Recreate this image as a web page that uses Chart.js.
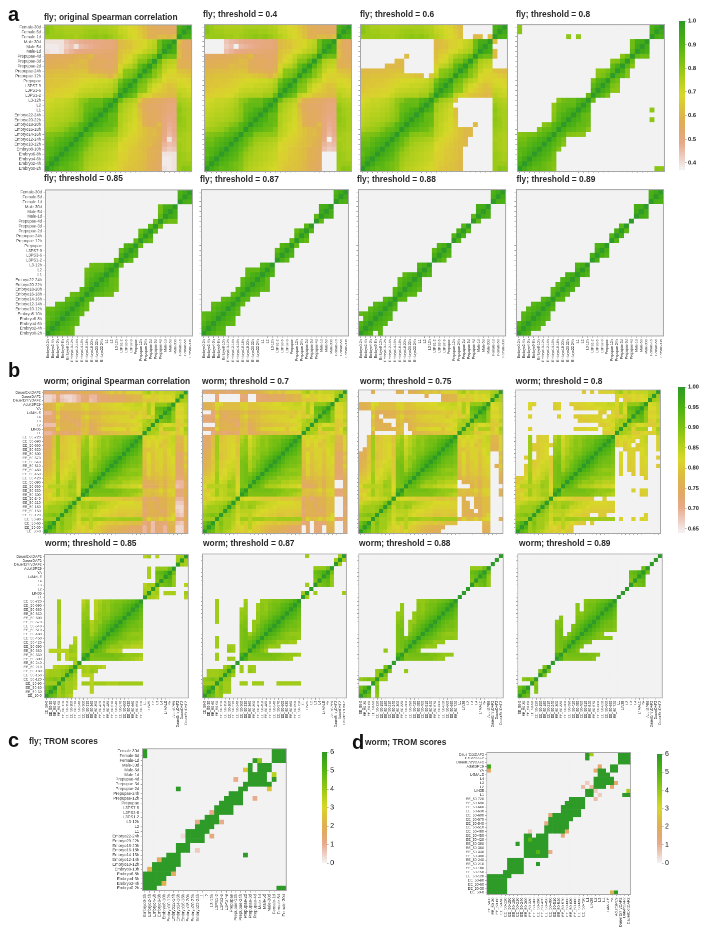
<!DOCTYPE html>
<html>
<head>
<meta charset="utf-8">
<title>Spearman correlation and TROM score heatmaps</title>
<script src="https://cdn.jsdelivr.net/npm/chart.js@4"></script>
<style>
  html, body { margin: 0; padding: 0; background: #fff; }
  #page { position: relative; width: 709px; height: 935px; overflow: hidden; font-family: "Liberation Sans", Arial, sans-serif; }
  canvas { position: absolute; transform-origin: 0 0; }
  .title { position: absolute; font-weight: bold; font-size: 8.4px; line-height: 10px; color: #2b2b2b; white-space: nowrap; }
  .letter { position: absolute; font-weight: bold; font-size: 20px; line-height: 20px; color: #111; }
</style>
</head>
<body>
<div id="page"></div>
<script>
// categories, bottom to top on y and left to right on x
const flyStages = ['Embryo0-2h', 'Embryo2-4h', 'Embryo4-6h', 'Embryo6-8h', 'Embryo8-10h', 'Embryo10-12h',
  'Embryo12-14h', 'Embryo14-16h', 'Embryo16-18h', 'Embryo18-20h', 'Embryo20-22h', 'Embryo22-24h',
  'L1', 'L2', 'L3-12h', 'L3PS1-2', 'L3PS3-6', 'L3PS7-9', 'Prepupae', 'Prepupae-12h', 'Prepupae-24h',
  'Prepupae-2d', 'Prepupae-3d', 'Prepupae-4d', 'Male-1d', 'Male-5d', 'Male-30d', 'Female-1d', 'Female-5d', 'Female-30d'];
const wormStages = ['EE_50-0', 'EE_50-30', 'EE_50-60', 'EE_50-90', 'EE_50-120', 'EE_50-150', 'EE_50-180', 'EE_50-210',
  'EE_50-240', 'EE_50-300', 'EE_50-330', 'EE_50-360', 'EE_50-390', 'EE_50-420', 'EE_50-450', 'EE_50-480', 'EE_50-510',
  'EE_50-540', 'EE_50-570', 'EE_50-600', 'EE_50-630', 'EE_50-660', 'EE_50-690', 'EE_50-720',
  'L1', 'LIN35', 'L2', 'L3', 'L4', 'L4MALE', 'YA', 'AdultSPE9', 'DauerEntryDAF2', 'DauerDAF2', 'DauerExitDAF2'];

// Spearman correlation x 100, lower triangle
const flySpearman = [
  [100],
  [93,100],
  [90,94,100],
  [87,90,93,100],
  [88,89,91,94,100],
  [86,86,89,91,93,100],
  [84,84,87,89,91,93,100],
  [81,82,83,84,87,89,92,100],
  [76,77,78,79,82,86,87,90,100],
  [74,75,76,77,78,81,83,89,92,100],
  [73,74,75,75,76,77,79,82,89,93,100],
  [72,73,74,74,75,76,78,81,88,91,93,100],
  [71,72,73,73,74,75,77,80,86,88,91,93,100],
  [70,71,72,72,73,74,76,80,85,87,87,87,93,100],
  [69,70,71,71,72,73,75,79,81,85,86,86,90,92,100],
  [66,66,67,67,68,69,71,73,74,75,75,75,77,77,86,100],
  [64,65,66,66,67,67,69,71,72,72,73,73,74,75,78,92,100],
  [63,64,64,65,65,66,67,69,70,70,71,71,72,73,76,88,93,100],
  [63,63,64,64,64,65,66,67,68,69,69,70,70,71,74,83,90,92,100],
  [62,62,63,63,63,63,64,65,65,65,64,63,62,59,64,73,81,83,87,100],
  [60,60,61,61,61,62,62,63,63,58,57,57,56,56,58,70,80,81,84,90,100],
  [57,57,58,58,58,61,60,60,60,56,55,55,54,54,56,67,72,74,78,87,92,100],
  [56,56,57,57,57,58,59,61,60,56,55,55,55,54,55,64,68,70,74,81,82,89,100],
  [54,54,55,55,55,56,57,58,58,61,54,54,53,53,55,63,66,68,72,76,78,81,86,100],
  [39,38,38,39,44,46,48,49,50,50,50,51,52,52,53,62,64,65,68,69,72,74,76,88,100],
  [38,38,38,39,42,44,39,45,46,47,48,49,50,50,52,60,62,63,66,67,69,72,74,85,94,100],
  [39,39,39,39,43,45,46,47,48,48,49,49,50,50,52,61,62,64,66,67,69,71,73,85,92,93,100],
  [78,78,78,78,77,77,76,77,78,79,80,79,80,78,76,74,72,70,68,66,63,58,58,61,61,59,62,100],
  [81,78,77,77,76,76,76,76,77,78,78,77,77,76,75,72,71,69,68,65,62,58,57,56,56,55,55,92,100],
  [80,78,76,76,75,75,75,75,76,76,76,76,76,75,74,71,70,68,67,64,61,57,56,55,55,54,54,91,94,100]
];
const wormSpearman = [
  [100],
  [93,100],
  [91,94,100],
  [87,87,87,100],
  [88,89,90,89,100],
  [86,87,87,87,88,100],
  [85,87,87,87,88,90,100],
  [83,84,85,86,86,87,90,100],
  [80,81,82,83,83,84,84,86,100],
  [81,82,84,87,84,85,87,87,83,100],
  [80,80,83,87,84,85,86,86,82,95,100],
  [82,85,85,85,85,85,88,87,82,90,90,100],
  [80,81,83,87,83,84,87,87,81,90,91,93,100],
  [80,80,82,87,82,83,84,86,81,90,91,92,94,100],
  [78,79,81,87,81,82,84,85,80,90,91,90,92,94,100],
  [77,78,80,86,81,82,83,84,80,90,91,87,90,92,94,100],
  [76,77,80,86,80,81,83,83,80,90,91,86,88,91,93,95,100],
  [76,77,79,86,80,81,82,83,80,90,90,86,88,90,92,94,96,100],
  [75,76,80,87,79,80,81,82,80,89,90,85,88,88,91,92,94,96,100],
  [75,76,79,87,79,80,81,82,79,88,89,84,86,88,90,90,92,94,95,100],
  [74,75,79,87,80,80,81,82,79,88,88,84,86,88,89,89,91,92,93,95,100],
  [73,74,78,87,80,80,81,82,80,87,88,83,85,87,89,88,90,91,92,94,95,100],
  [73,74,78,87,79,80,81,81,79,86,88,83,85,87,89,88,90,91,91,93,94,96,100],
  [73,73,78,87,79,80,81,81,79,85,87,82,85,86,88,88,89,90,90,91,92,93,95,100],
  [69,69,71,76,73,72,73,74,72,78,78,74,74,76,77,77,78,78,79,79,79,80,80,81,100],
  [73,73,73,81,76,76,76,76,76,78,79,74,76,78,81,81,81,82,82,82,79,82,82,83,87,100],
  [68,68,68,78,76,76,76,76,72,77,78,74,76,77,78,78,78,79,79,79,80,80,81,82,86,86,100],
  [72,72,73,78,75,76,74,74,74,78,79,76,77,78,79,80,80,80,81,81,81,82,82,83,85,87,86,100],
  [72,72,72,81,76,73,76,76,76,79,81,78,78,78,80,80,81,81,81,81,81,79,81,82,80,81,84,90,100],
  [69,69,72,78,75,75,75,76,76,77,78,76,76,77,78,78,78,79,79,79,80,80,79,81,80,86,82,91,92,100],
  [75,76,77,81,78,78,78,78,78,80,81,79,79,79,80,80,81,81,81,82,82,83,83,83,81,86,82,92,93,95,100],
  [76,76,77,82,81,78,78,78,78,81,81,79,79,80,81,81,81,82,82,83,83,83,84,84,82,86,83,88,88,88,91,100],
  [66,66,68,72,68,67,66,67,69,72,72,68,69,72,73,73,73,74,74,74,76,76,77,77,80,79,80,80,82,81,82,82,100],
  [66,66,67,71,67,66,66,67,69,71,72,69,69,72,73,73,75,74,74,74,76,76,77,77,81,82,80,81,82,81,82,83,87,100],
  [72,72,73,76,73,73,72,73,74,76,76,74,75,76,77,78,80,78,80,78,81,81,81,81,85,87,83,85,83,84,84,84,86,87,100]
];

// TROM scores, row by row from the bottom, trailing zeros left off
const flyTrom = [
  [6,6,6,0,0,0,0,0,0,0, 0,0,0,0,0,0,0,0,0,0, 0,0,0,0,0,0,0,0,6,6],
  [6,6,6,6,2],
  [6,6,6,6,6],
  [6,6,6,6,6,6,1.7],
  [0,2,6,6,6,6,6],
  [0,0,6,6,6,6,6,6],
  [0,0,0,1.7,6,6,6,6],
  [0,0,0,0,0,6,6,6,0,0, 0,0,0,0,0,0,0,0,0,0, 0,6],
  [0,0,0,0,0,0,0,6,6,6, 0,0.5],
  [0,0,0,0,0,0,0,6,6,6],
  [0,0,0,0,0,0,0,0,0,6, 6,6,6],
  [0,0,0,0,0,0,0,0,0.3,6, 6,6,6,0,1.2],
  [0,0,0,0,0,0,0,0,0,6, 6,6,6,6],
  [0,0,0,0,0,0,0,0,0,0, 0,6,6,6,6],
  [0,0,0,0,0,0,0,0,0,0, 0,1,6,6,6,6,1],
  [0,0,0,0,0,0,0,0,0,0, 0,0,0,6,6,6],
  [0,0,0,0,0,0,0,0,0,0, 0,0,0,0,1,6,6,6,6],
  [0,0,0,0,0,0,0,0,0,0, 0,0,0,0,0,6,6,6,6],
  [0,0,0,0,0,0,0,0,0,0, 0,0,0,0,0,0,6,6,6,6, 6],
  [0,0,0,0,0,0,0,0,0,0, 0,0,0,0,0,0,0,6,6,6, 6,0,0,1],
  [0,0,0,0,0,0,0,0,0,0, 0,0,0,0,0,0,0,0,6,6, 6],
  [0,0,0,0,0,0,0,6,0,0, 0,0,0,0,0,0,0,0,0,0, 6,6,0,0,0,0,2.5],
  [0,0,0,0,0,0,0,0,0,0, 0,0,0,0,0,0,0,0,0,0, 0,6,6,6,6,6,6],
  [0,0,0,0,0,0,0,0,0,0, 0,0,0,0,0,0,0,0,0,1, 0,0,6,6,6,6,0,6],
  [0,0,0,0,0,0,0,0,0,0, 0,0,0,0,0,0,0,0,0,0, 0,0,6,6,6,6,0,3.5],
  [0,0,0,0,0,0,0,0,0,0, 0,0,0,0,0,0,0,0,0,0, 0,2.5,6,0,6,6,6],
  [0,0,0,0,0,0,0,0,0,0, 0,0,0,0,0,0,0,0,0,0, 0,0,6,0,6,6,6],
  [0,0,0,0,0,0,0,0,0,0, 0,0,0,0,0,0,0,0,0,0, 0,0,0,6,4,0,0,6,6,6],
  [6,0,0,0,0,0,0,0,0,0, 0,0,0,0,0,0,0,0,0,0, 0,0,0,0,0,0,0,6,6,6],
  [6,0,0,0,0,0,0,0,0,0, 0,0,0,0,0,0,0,0,0,0, 0,0,0,0,0,0,0,6,6,6]
];
const wormTrom = [
  [6,6,6,6,6,0,0,0,0,0, 0,0,0,0,0,0,0,0,0,0, 0,0,0,0,0,0,0,0,0,0, 2,6],
  [6,6,6,6,6],
  [6,6,6,6,6],
  [6,6,6,6,6],
  [6,6,6,6,6,6],
  [0,0,0,0,6,6,6,6,6],
  [0,0,0,0,0,6,6,6,6],
  [0,0,0,0,0,6,6,6,6,0, 0,0,6],
  [0,0,0,0,0,6,6,6,6],
  [0,0,0,0,0,0,0,0,0,6, 6,6,6,6,6],
  [0,0,0,0,0,0,0,0,0,6, 6,6,5,6,6,1],
  [0,0,0,0,0,0,0,0,0,6, 6,6,6,6,6],
  [0,0,0,0,0,0,0,6,0,6, 6,6,6,6,6],
  [0,0,0,0,0,0,0,0,0,6, 5,6,6,6,6],
  [0,0,0,0,0,0,0,0,0,6, 6,0,6,6,6,0,0,0,1.3],
  [0,0,0,0,0,0,0,0,0,0, 0.5,0,0,0,6,6,6,6,6,1.5],
  [0,0,0,0,0,0,0,0,0,0, 0,0,0,0,6,6,6,6,6,6],
  [0,0,0,0,0,0,0,0,0,0, 0,0,0,0,1,6,6,6,6,6],
  [0,0,0,0,0,0,0,0,0,0, 0,0,0,0,0,6,6,6,6,6, 6],
  [0,0,0,0,0,0,0,0,0,0, 0,0,0,0,0,1.3,6,6,6,6, 6,6,6],
  [0,0,0,0,0,0,0,0,0,0, 0,0,0,0,0,0,0,0,6,6, 6,6,6],
  [0,0,0,0,0,0,0,0,0,0, 0,0,0,0,0,0,0,0,6,6, 6,6,6,6],
  [0,0,0,0,0,0,0,0,0,0, 0,0,0,0,0,0,0,0,0,6, 6,6,6,6],
  [0,0,0,0,0,0,0,0,0,0, 0,0,0,0,0,0,0,0,0,0, 6,6,6,6,0,0,0.7],
  [0,0,0,0,0,0,0,0,0,0, 0,0,0,0,0,0,0,0,0,0, 0,0,0,0,6,6,0,0.5,0,0, 0,0,0,6,6],
  [0,0,0,0,0,0,0,0,0,0, 0,0,0,0,0,0,0,0,0,0, 0,0,0,0,6,6,0.5,0,0,0, 0,0,0,0,3.7],
  [0,0,0,0,0,0,0,0,0,0, 0,0,0,0,0,0,0,0,0,0, 0,0,0,0.8,0,0.8,6,6,6,0, 1.5],
  [0,0,0,0,0,0,0,0,0,0, 0,0,0,0,0,0,0,0,0,0, 0,0,0,0,0.5,0,6,6,6,6, 6,1.5],
  [0,0,0,0,0,0,0,0,0,0, 0,0,0,0,0,0,0,0,0,0, 0,0,0,0,0,0,6,6,6,6, 6],
  [0,0,0,0,0,0,0,0,0,0, 0,0,0,0,0,0,0,0,0,0, 0,0,0,0,0,0,0,6,6,6],
  [1.7,0,0,0,0,0,0,0,0,0, 0,0,0,0,0,0,0,0,0,0, 0,0,0,0,0,0,1.5,6,6,0, 6,6],
  [5.5,0,0,0,0,0,0,0,0,0, 0,0,0,0,0,0,0,0,0,0, 0,0,0,0,0,0,0,1.5,0,0, 6,6],
  [0,0,0,0,0,0,0,0,0,0, 0,0,0,0,0,0,0,0,0,0, 0,0,0,0,0,0,0,0,0,0, 0,0,6,6,6],
  [0,0,0,0,0,0,0,0,0,0, 0,0,0,0,0,0,0,0,0,0, 0,0,0,0,6,0,0,0,0,0, 0,0,6,6,6],
  [0,0,0,0,0,0,0,0,0,0, 0,0,0,0,0,0,0,0,0,0, 0,0,0,0,6,3.8,0,0,0,0, 0,0,6,6,6]
];

const flyRange = [37, 100];
const wormRange = [64, 100];
const tromRange = [0, 6];
const flyBarTicks = [100, 90, 80, 70, 60, 50, 40];
const wormBarTicks = [100, 95, 90, 85, 80, 75, 70, 65];
const tromBarTicks = [6, 5, 4, 3, 2, 1, 0];

// colour ramp of the figure, low to high
const rampStops = [
  [0, [242,242,242]], [0.08, [238,204,192]], [0.17, [232,170,138]], [0.25, [227,168,108]],
  [0.33, [223,176,82]], [0.42, [220,196,58]], [0.5, [216,216,41]], [0.6, [176,207,28]],
  [0.7, [134,196,20]], [0.85, [78,178,20]], [0.92, [62,166,26]], [1, [46,154,40]]
];
const blankCell = '#f2f2f2';

function rampColor(t) {
  t = Math.max(0, Math.min(1, t));
  for (let i = 1; i < rampStops.length; i++) {
    if (t <= rampStops[i][0]) {
      const a = rampStops[i - 1], b = rampStops[i];
      const f = (t - a[0]) / (b[0] - a[0]);
      const c = a[1].map((v, k) => Math.round(v + (b[1][k] - v) * f));
      return 'rgb(' + c.join(',') + ')';
    }
  }
  return 'rgb(46,154,40)';
}

// fill the upper half from the lower triangle
function fullMatrix(tri) {
  return tri.map((_, i) => tri.map((_, j) => (j <= i ? tri[i][j] : tri[j][i])));
}

const page = document.getElementById('page');

const framePlugin = {
  id: 'frame',
  afterDraw(chart) {
    const a = chart.chartArea, ctx = chart.ctx;
    ctx.save();
    ctx.strokeStyle = '#a6a6a6';
    ctx.lineWidth = 2;
    ctx.strokeRect(a.left, a.top, a.right - a.left, a.bottom - a.top);
    ctx.restore();
  }
};

function addCanvas(w, h, left, top, sx, sy) {
  const c = document.createElement('canvas');
  c.width = w;
  c.height = h;
  c.style.width = w + 'px';
  c.style.height = h + 'px';
  c.style.left = left + 'px';
  c.style.top = top + 'px';
  c.style.transform = 'scale(' + sx + ',' + sy + ')';
  page.appendChild(c);
  return c;
}

// xFont and yFont are the tick label sizes; 0 leaves that axis without labels
function heatmap(matrix, labels, range, threshold, box, xFont, yFont) {
  const n = labels.length, cell = 10, side = n * cell;
  const marginL = 110, marginB = 110, marginT = 4, marginR = 4;
  const sx = (box[1] - box[0]) / side, sy = (box[3] - box[2]) / side;
  const canvas = addCanvas(marginL + side + marginR, marginT + side + marginB,
    box[0] - marginL * sx, box[2] - marginT * sy, sx, sy);
  const datasets = matrix.map(row => ({
    data: labels.map(() => 1),
    backgroundColor: labels.map((_, j) => {
      const v = row[j] || 0;
      if (threshold !== null && v < threshold) return blankCell;
      return rampColor((v - range[0]) / (range[1] - range[0]));
    }),
    borderWidth: 0,
    barPercentage: 1,
    categoryPercentage: 1
  }));
  return new Chart(canvas, {
    type: 'bar',
    data: { labels: labels, datasets: datasets },
    plugins: [framePlugin],
    options: {
      responsive: false,
      animation: false,
      devicePixelRatio: 1,
      layout: { padding: { top: marginT, right: marginR, left: 0, bottom: 0 } },
      plugins: { legend: { display: false }, tooltip: { enabled: false } },
      scales: {
        x: {
          stacked: true,
          offset: true,
          grid: { display: true, drawOnChartArea: false, offset: false, tickLength: 4, color: '#9a9a9a', lineWidth: 1 },
          border: { display: false },
          ticks: {
            autoSkip: false, minRotation: 90, maxRotation: 90, padding: 3,
            color: '#444', font: { size: xFont || 7, family: 'Liberation Sans' },
            callback: (v, i) => (xFont ? labels[i] : '')
          },
          afterFit: s => { s.height = marginB; }
        },
        y: {
          stacked: true,
          min: 0,
          max: n,
          grid: { display: true, drawOnChartArea: false, tickLength: 4, color: '#9a9a9a', lineWidth: 1 },
          border: { display: false },
          afterBuildTicks: s => { s.ticks = labels.map((_, i) => ({ value: i + 0.5 })); },
          ticks: {
            autoSkip: false, padding: 3,
            color: '#444', font: { size: yFont || 7, family: 'Liberation Sans' },
            callback: v => (yFont ? labels[Math.floor(v)] : '')
          },
          afterFit: s => { s.width = marginL; }
        }
      }
    }
  });
}

// colour key, on its own value axis
function colorBar(range, tickValues, digits, divide, fontSize, fontWeight, box) {
  const z = 0.5;
  const w = (box[1] - box[0]) / z, h = (box[3] - box[2]) / z, marginR = 60, marginT = 14;
  const canvas = addCanvas(w + marginR, h + marginT * 2, box[0], box[2] - marginT * z, z, z);
  const span = range[1] - range[0];
  const datasets = [];
  for (let k = 0; k < 70; k++) {
    const lo = range[0] + span * k / 70, hi = range[0] + span * (k + 1.4) / 70;
    datasets.push({
      data: [[lo, Math.min(hi, range[1])]],
      backgroundColor: rampColor((k + 0.5) / 70),
      borderWidth: 0, barPercentage: 1, categoryPercentage: 1, grouped: false
    });
  }
  return new Chart(canvas, {
    type: 'bar',
    data: { labels: [''], datasets: datasets },
    options: {
      responsive: false,
      animation: false,
      devicePixelRatio: 1,
      layout: { padding: { top: marginT, bottom: marginT, left: 0, right: 0 } },
      plugins: { legend: { display: false }, tooltip: { enabled: false } },
      scales: {
        x: { display: false, offset: true },
        y: {
          position: 'right',
          min: range[0],
          max: range[1],
          grid: { display: true, drawOnChartArea: false, tickLength: 3, color: '#777' },
          border: { display: false },
          afterBuildTicks: s => { s.ticks = tickValues.map(v => ({ value: v })); },
          ticks: {
            autoSkip: false, padding: 3, color: '#222',
            font: { size: fontSize / z, weight: fontWeight, family: 'Liberation Sans' },
            callback: v => (v / divide).toFixed(digits)
          },
          afterFit: s => { s.width = marginR; }
        }
      }
    }
  });
}

function label(cls, text, x, y) {
  const d = document.createElement('div');
  d.className = cls;
  d.textContent = text;
  d.style.left = x + 'px';
  d.style.top = y + 'px';
  page.appendChild(d);
  return d;
}

const flyMatrix = fullMatrix(flySpearman);
const wormMatrix = fullMatrix(wormSpearman);

// fly panels: threshold, title position, plot box
const flyThresholds = [null, 40, 60, 80, 85, 87, 88, 89];
const flyTitles = ['fly; original Spearman correlation', 'fly; threshold = 0.4', 'fly; threshold = 0.6', 'fly; threshold = 0.8',
  'fly; threshold = 0.85', 'fly; threshold = 0.87', 'fly; threshold = 0.88', 'fly; threshold = 0.89'];
const flyBoxes = [[44.3,192.7,22.7,171], [204,352.3,22.7,171], [360.7,509,22.7,171], [517.7,666,22.7,171],
  [45,193.3,187.5,335.5], [201.7,350,187.5,335.5], [358.3,506.7,187.5,335.5], [516,664.3,187.5,335.5]];
const flyTitlePos = [[44,11.5], [203,9], [360,9], [516,9], [44,173], [200,174], [357,174], [516.5,174]];
flyThresholds.forEach((t, i) => {
  heatmap(flyMatrix, flyStages, flyRange, t, flyBoxes[i], i >= 4 ? 6.9 : 0, i === 0 || i === 4 ? 8.2 : 0);
  label('title', flyTitles[i], flyTitlePos[i][0], flyTitlePos[i][1]);
});

// worm panels
const wormThresholds = [null, 70, 75, 80, 85, 87, 88, 89];
const wormTitles = ['worm; original Spearman correlation', 'worm; threshold = 0.7', 'worm; threshold = 0.75', 'worm; threshold = 0.8',
  'worm; threshold = 0.85', 'worm; threshold = 0.87', 'worm; threshold = 0.88', 'worm; threshold = 0.89'];
const wormBoxes = [[43.3,188.6,388.3,533.3], [202.3,347.7,388.3,533.3], [359,504.3,388.3,533.3], [516,661.7,388.3,533.3],
  [44.7,190,553,698.3], [202.3,347.7,553,698.3], [359,505,553,698.3], [517.7,663.7,553,698.3]];
const wormTitlePos = [[44,375.7], [202,375.7], [360,375.7], [515.7,375.7], [45,538], [203,538], [359,538], [519,538]];
wormThresholds.forEach((t, i) => {
  heatmap(wormMatrix, wormStages, wormRange, t, wormBoxes[i], i >= 4 ? 8.4 : 0, i === 0 || i === 4 ? 8.8 : 0);
  label('title', wormTitles[i], wormTitlePos[i][0], wormTitlePos[i][1]);
});

// TROM panels
heatmap(flyTrom, flyStages, tromRange, null, [143,289,747.3,891], 8.8, 8.4);
heatmap(wormTrom, wormStages, tromRange, null, [487.3,633.3,750.3,894.3], 9.4, 8.7);
label('title', 'fly; TROM scores', 29, 736);
label('title', 'worm; TROM scores', 365, 737);

// colour keys
colorBar(flyRange, flyBarTicks, 1, 100, 5.8, 'bold', [679,685,21,170]);
colorBar(wormRange, wormBarTicks, 2, 100, 5.6, 'bold', [678,685,387,533]);
colorBar(tromRange, tromBarTicks, 0, 1, 7, 'normal', [321.7,327,752,863]);
colorBar(tromRange, tromBarTicks, 0, 1, 7, 'normal', [656.7,661.7,754,863]);

label('letter', 'a', 8, 4);
label('letter', 'b', 8, 360);
label('letter', 'c', 8, 730);
label('letter', 'd', 352, 732);
</script>
</body>
</html>
